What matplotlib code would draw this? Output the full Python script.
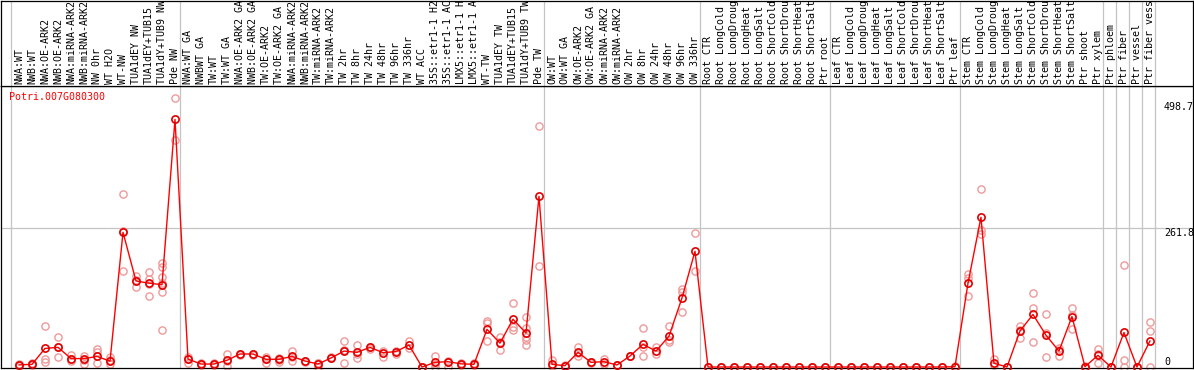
import matplotlib
matplotlib.use('Agg')
import matplotlib.pyplot as plt
import matplotlib.transforms as mtransforms

gene_id = "Potri.007G080300"

categories = [
    "NWA:WT", "NWB:WT", "NWA:OE-ARK2", "NWB:OE-ARK2", "NWA:miRNA-ARK2", "NWB:miRNA-ARK2",
    "NW 0hr", "WT H2O", "WT-NW", "TUA1dEY NW", "TUA1dEY+TUB15", "TUA1dY+TUB9 NW", "Pde NW",
    "NWA:WT GA", "NWBWT GA", "TW:WT", "TW:WT GA", "NWA:OE-ARK2 GA", "NWB:OE-ARK2 GA",
    "TW:OE-ARK2", "TW:OE-ARK2 GA", "NWA:miRNA-ARK2", "NWB:miRNA-ARK2", "TW:miRNA-ARK2",
    "TW:miRNA-ARK2", "TW 2hr", "TW 8hr", "TW 24hr", "TW 48hr", "TW 96hr", "TW 336hr",
    "WT ACC", "35S::etr1-1 H2", "35S::etr1-1 AC", "LMX5::etr1-1 H", "LMX5::etr1-1 A",
    "WT-TW", "TUA1dEY TW", "TUA1dEY+TUB15", "TUA1dY+TUB9 TW", "Pde TW",
    "OW:WT", "OW:WT GA", "OW:OE-ARK2", "OW:OE-ARK2 GA", "OW:miRNA-ARK2", "OW:miRNA-ARK2",
    "OW 2hr", "OW 8hr", "OW 24hr", "OW 48hr", "OW 96hr", "OW 336hr",
    "Root CTR", "Root LongCold", "Root LongDroug", "Root LongHeat", "Root LongSalt",
    "Root ShortCold", "Root ShortDrou", "Root ShortHeat", "Root ShortSalt", "Ptr root",
    "Leaf CTR", "Leaf LongCold", "Leaf LongDroug", "Leaf LongHeat", "Leaf LongSalt",
    "Leaf ShortCold", "Leaf ShortDrou", "Leaf ShortHeat", "Leaf ShortSalt", "Ptr leaf",
    "Stem CTR", "Stem LongCold", "Stem LongDroug", "Stem LongHeat", "Stem LongSalt",
    "Stem ShortCold", "Stem ShortDrou", "Stem ShortHeat", "Stem ShortSalt", "Ptr shoot",
    "Ptr xylem", "Ptr phloem", "Ptr fiber", "Ptr vessel", "Ptr fiber vess",
]

means = [
    4, 5, 35, 37, 16, 15.7, 20, 11, 253.6, 162, 158, 155, 466.5,
    15, 5.6, 5.6, 12.6, 24.5, 24.5, 14.5, 14.5, 20, 11.3, 5.6, 17, 30, 27.6, 37, 27, 29, 41.4,
    0, 8.8, 10, 6, 5, 71, 45, 90, 64, 321.5,
    5, 2.5, 27.6, 8.8, 10, 3.8, 20.7, 42.7, 30, 58, 130, 218,
    0, 0, 0, 0, 0, 0, 0, 0, 0, 0,
    0, 0, 0, 0, 0, 0, 0, 0, 0, 0.6,
    157.6, 282, 7, 0, 67.8, 99, 60, 30, 95, 0.6,
    22, 0, 65, 0, 49,
]

replicates = [
    [4, 5, 2], [7, 5, 4], [78, 14.5, 10], [56, 18, 37], [22, 14.5, 11], [20, 6, 14],
    [33, 29, 8], [18, 5, 13], [325, 180, 256], [172, 151, 163], [179, 165, 134, 157],
    [196.5, 188, 170, 140.7, 69.7, 158], [506, 427],
    [8, 15, 19], [7, 3, 6], [4, 7, 6], [24.5, 2, 12], [24.5, 22], [24.5, 23],
    [8, 16, 18], [17, 9, 14], [30.7, 10.7, 18], [12, 9], [8, 0.6, 7], [17, 18],
    [49, 7, 32], [41.4, 17.6, 24], [37, 34], [30, 19], [31, 24], [49, 35],
    [0, 0], [20.7, 0, 6], [12, 0, 10], [8, 3, 6], [7, 3],
    [87, 82, 49.5], [56, 32, 48], [120, 75, 70], [95, 73, 57, 51, 41], [454, 190],
    [13, 2], [2.5, 3], [37, 20.7, 26], [10, 7], [16, 5], [3, 4],
    [20.7, 21], [73, 21, 38], [37, 24], [77, 47.6, 50], [146, 103.6, 141], [252, 181],
    [0, 0], [0, 0], [0, 0], [0, 0], [0, 0], [0, 0], [0, 0], [0, 0], [0, 0], [0, 0],
    [0, 0], [0, 0], [0, 0], [0, 0], [0, 0], [0, 0], [0, 0], [0, 0], [0, 0], [0, 2],
    [174.6, 167, 133.7], [335, 258, 250], [14.5, 3], [0, 0], [77, 54, 70],
    [139, 112, 46.5], [99, 64.6, 18], [35, 21, 32], [110.5, 71.6, 98], [0, 1],
    [34, 8, 24], [0, 0], [191.5, 13, 0], [0, 0], [84, 67, 0],
]

group_bounds = [-0.64, 12.41, 40.41, 52.41, 62.42, 72.38, 83.41, 84.41, 85.41, 86.41, 87.41]
ytick_values = [498.7, 261.8, 0]
ytick_labels = ["498.7", "261.8", "0"]
grid_values = [261.8]

W, H = 1194, 370
fig = plt.figure(figsize=(W / 100, H / 100), dpi=100)


def px_box(x0, y0, x1, y1):
    return [x0 / W, (H - y1) / H, (x1 - x0) / W, (y1 - y0) / H]


XLIM = (-1.385, 90.31)
YLIM = (-1.88, 529.3)
MONO = "DejaVu Sans Mono"
FS = 7.2
GRID_C = "#c4c4c4"

ax = fig.add_axes(px_box(1, 86, 1193, 368))
axl = fig.add_axes(px_box(1, 0.5, 1193, 86))

for a in (ax, axl):
    a.set_xlim(*XLIM)
    a.set_xticks([])
    a.set_yticks([])
    for s in a.spines.values():
        s.set_color("black")
        s.set_linewidth(0.9)
    for b in group_bounds:
        a.axvline(b, color=GRID_C, lw=0.9, zorder=0)
ax.set_ylim(*YLIM)
axl.set_ylim(0, 1)

for g in grid_values:
    ax.axhline(g, color=GRID_C, lw=0.9, zorder=0)

# category labels
trans = mtransforms.blended_transform_factory(axl.transData, axl.transAxes)
for i, lab in enumerate(categories):
    axl.text(i, 0.025, lab, rotation=90, ha="center", va="bottom",
             fontsize=FS, family=MONO, color="black", transform=trans, clip_on=True)

# replicate points
rx, ry = [], []
for i, reps in enumerate(replicates):
    for v in reps:
        rx.append(i)
        ry.append(v)
ax.plot(rx, ry, linestyle="none", marker="o", mfc="none", mec="#ee9a9a",
        ms=5.2, mew=1.0, zorder=2, clip_on=False)

# mean line
ax.plot(range(len(means)), means, color="#ff0000", lw=1.0, marker="o", mfc="none",
        mec="#e00000", ms=5.2, mew=1.2, zorder=3, clip_on=False)

# y labels at right
for v, lab in zip(ytick_values, ytick_labels):
    ax.text(88.08, v, lab, ha="left", va="bottom" if v == 0 else "top",
            fontsize=FS, family=MONO, color="black")

ax.text(8 / 1192, 1 - 11 / 282, gene_id, transform=ax.transAxes, ha="left", va="center",
        fontsize=FS, family=MONO, color="#ff0000")

fig.savefig("out.png", dpi=100)
